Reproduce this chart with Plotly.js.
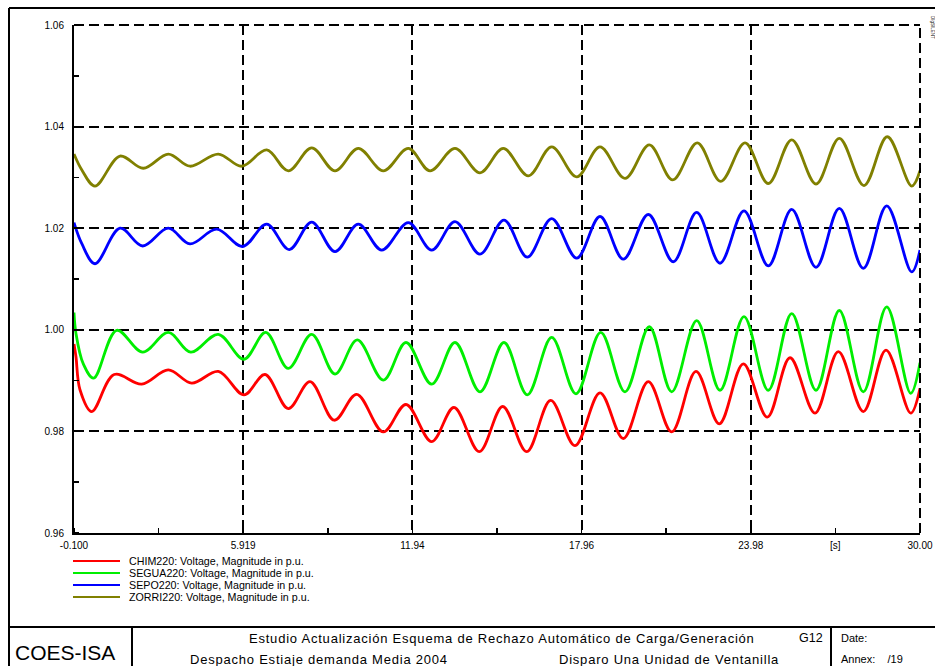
<!DOCTYPE html>
<html>
<head>
<meta charset="utf-8">
<script src="https://cdn.plot.ly/plotly-3.0.1.min.js"></script>
<style>
html,body{margin:0;padding:0;background:#fff;}
#chart{width:935px;height:666px;}
</style>
</head>
<body>
<div id="chart"></div>
<script>
// ---- data (time in s, voltage in p.u.) ----
const chimT = [-0.1, -0.03, 0.113, 0.53, 1.33, 2.309, 3.255, 4.088, 5.034, 5.949, 6.696, 7.525, 8.297, 9.161, 9.958, 10.905, 11.712, 12.627, 13.420, 14.320, 15.153, 16.007, 16.860, 17.725, 18.615, 19.444, 20.333, 21.166, 22.030, 22.859, 23.713, 24.567, 25.375, 26.265, 27.094, 27.983, 28.790, 29.669, 30.0];
const chimV = [0.9972, 0.9947, 0.9882, 0.9839, 0.9912, 0.9893, 0.9921, 0.9895, 0.9918, 0.9872, 0.9912, 0.9845, 0.9898, 0.9822, 0.9873, 0.9799, 0.9853, 0.9780, 0.9847, 0.9760, 0.9849, 0.9760, 0.9861, 0.9772, 0.9876, 0.9786, 0.9898, 0.9799, 0.9918, 0.9815, 0.9933, 0.9828, 0.9945, 0.9836, 0.9957, 0.9839, 0.9960, 0.9836, 0.9885];

const seguaT = [-0.1, -0.03, 0.231, 0.60, 1.419, 2.344, 3.255, 4.052, 5.034, 5.949, 6.721, 7.525, 8.357, 9.186, 9.980, 10.905, 11.712, 12.627, 13.456, 14.345, 15.199, 16.028, 16.896, 17.761, 18.640, 19.504, 20.369, 21.166, 22.055, 22.884, 23.738, 24.603, 25.436, 26.300, 27.129, 27.983, 28.815, 29.669, 30.0];
const seguaV = [1.0034, 0.9993, 0.9933, 0.9905, 0.9999, 0.9956, 0.9995, 0.9956, 0.9991, 0.9942, 0.9995, 0.9924, 0.9991, 0.9913, 0.9980, 0.9901, 0.9975, 0.9893, 0.9975, 0.9878, 0.9975, 0.9872, 0.9985, 0.9874, 0.9995, 0.9878, 1.0006, 0.9878, 1.0018, 0.9881, 1.0026, 0.9881, 1.0032, 0.9881, 1.0038, 0.9878, 1.0045, 0.9875, 0.9935];

const sepoT = [-0.1, 0.174, 0.647, 1.537, 2.344, 3.255, 4.027, 4.977, 5.902, 6.756, 7.560, 8.357, 9.186, 10.015, 10.848, 11.794, 12.627, 13.456, 14.345, 15.199, 16.028, 16.896, 17.786, 18.615, 19.444, 20.333, 21.223, 22.055, 22.884, 23.738, 24.603, 25.436, 26.300, 27.129, 27.983, 28.815, 29.704, 30.0];
const sepoV = [1.0211, 1.0170, 1.0130, 1.0200, 1.0165, 1.0200, 1.0169, 1.0198, 1.0164, 1.0208, 1.0158, 1.0212, 1.0154, 1.0208, 1.0157, 1.0211, 1.0157, 1.0213, 1.0149, 1.0216, 1.0143, 1.0219, 1.0141, 1.0223, 1.0139, 1.0227, 1.0134, 1.0231, 1.0131, 1.0234, 1.0126, 1.0237, 1.0123, 1.0239, 1.0121, 1.0244, 1.0114, 1.0157];

const zorriT = [-0.1, 0.174, 0.647, 1.537, 2.366, 3.255, 4.027, 5.034, 5.867, 6.756, 7.525, 8.357, 9.186, 10.015, 10.905, 11.794, 12.566, 13.456, 14.345, 15.174, 16.064, 16.896, 17.786, 18.615, 19.504, 20.369, 21.201, 22.076, 22.909, 23.774, 24.603, 25.436, 26.300, 27.129, 28.007, 28.836, 29.704, 30.0];
const zorriV = [1.0346, 1.0315, 1.0283, 1.0342, 1.0318, 1.0346, 1.0322, 1.0346, 1.0322, 1.0354, 1.0313, 1.0358, 1.0313, 1.0357, 1.0313, 1.0357, 1.0313, 1.0357, 1.0309, 1.0357, 1.0303, 1.0360, 1.0301, 1.0360, 1.0298, 1.0364, 1.0295, 1.0368, 1.0292, 1.0368, 1.0288, 1.0374, 1.0287, 1.0377, 1.0284, 1.0380, 1.0283, 1.0313];

const seriesNames = ["CHIM220: Voltage, Magnitude in p.u.", "SEGUA220: Voltage, Magnitude in p.u.", "SEPO220: Voltage, Magnitude in p.u.", "ZORRI220: Voltage, Magnitude in p.u."];
const seriesColors = ["#ff0000", "#00ee00", "#0000ff", "#808000"];

const xTickVals = [-0.1, 5.919, 11.94, 17.96, 23.98, 30.0];
const xTickText = ["-0.100", "5.919", "11.94", "17.96", "23.98", "30.00"];
const yTickVals = [0.96, 0.98, 1.00, 1.02, 1.04, 1.06];
const yTickText = ["0.96", "0.98", "1.00", "1.02", "1.04", "1.06"];

// ---- layout geometry helpers (pixel -> paper) ----
const W = 935, H = 666;
const L = 74, R = 920, T = 25, B = 533;
const px = x => (x - L) / (R - L);
const py = y => (B - y) / (B - T);
const FONT = "Liberation Sans, Arial, sans-serif";

const xs = [chimT, seguaT, sepoT, zorriT];
const ys = [chimV, seguaV, sepoV, zorriV];
const traces = xs.map((x, i) => ({
  type: "scatter", mode: "lines", x: x, y: ys[i], name: seriesNames[i],
  line: {color: seriesColors[i], width: 2.8, shape: "spline", smoothing: 1},
  showlegend: false, hoverinfo: "skip"
}));

const blk = {color: "#000", width: 2};
const dashLine = {color: "#000", width: 2, dash: "10px,5px"};
const shapes = [
  // outer frame
  {type: "line", xref: "paper", yref: "paper", x0: px(9), x1: px(9), y0: py(8), y1: py(670), line: blk},
  {type: "line", xref: "paper", yref: "paper", x0: px(9), x1: px(940), y0: py(8), y1: py(8), line: blk},
  // title block
  {type: "line", xref: "paper", yref: "paper", x0: px(9), x1: px(940), y0: py(627), y1: py(627), line: blk},
  {type: "line", xref: "paper", yref: "paper", x0: px(132), x1: px(132), y0: py(627), y1: py(670), line: blk},
  {type: "line", xref: "paper", yref: "paper", x0: px(831), x1: px(831), y0: py(627), y1: py(670), line: blk},
  // dashed top & right plot edges
  {type: "line", xref: "paper", yref: "paper", x0: 0, x1: 1, y0: 1, y1: 1, line: dashLine},
  {type: "line", xref: "paper", yref: "paper", x0: 1, x1: 1, y0: 0, y1: 1, line: dashLine}
];
const legY = [561, 573, 585, 597];
const annotations = [];
seriesNames.forEach((n, i) => {
  shapes.push({type: "line", xref: "paper", yref: "paper", x0: px(73), x1: px(120), y0: py(legY[i]), y1: py(legY[i]), line: {color: seriesColors[i], width: 2}});
  annotations.push({xref: "paper", yref: "paper", x: px(127), y: py(legY[i]), xanchor: "left", yanchor: "middle", text: n, showarrow: false, font: {family: FONT, size: 10.7, color: "#000"}});
});
const tb = (x, y, text, size, anchor) => annotations.push({xref: "paper", yref: "paper", x: px(x), y: py(y), xanchor: anchor || "left", yanchor: "middle", text: text, showarrow: false, font: {family: FONT, size: size, color: "#000"}});
const sp = t => "<span style='letter-spacing:0.78px'>" + t + "</span>";
tb(13, 652, "COES-ISA", 21, "left");
tb(247, 638, sp("Estudio Actualización Esquema de Rechazo Automático de Carga/Generación"), 13, "left");
tb(797, 638, "G12", 12.5, "left");
tb(188, 659, sp("Despacho Estiaje demanda Media 2004"), 13, "left");
tb(557, 659, sp("Disparo Una Unidad de Ventanilla"), 13, "left");
tb(839, 638, "Date:", 11, "left");
tb(839, 659, "Annex:&nbsp;&nbsp;&nbsp;&nbsp;/19", 11, "left");
// time unit label at the minor tick position
annotations.push({xref: "x", yref: "paper", x: 26.99, y: py(545), xanchor: "center", yanchor: "middle", text: "[s]", showarrow: false, font: {family: FONT, size: 10, color: "#000"}});
annotations.push({xref: "paper", yref: "paper", x: px(932), y: py(27), xanchor: "center", yanchor: "middle", text: "DIgSILENT", textangle: 90, showarrow: false, font: {family: FONT, size: 4.5, color: "#000"}});

const gridCommon = {showgrid: true, gridcolor: "#000", gridwidth: 2, griddash: "10px,5px", zeroline: false,
  showline: true, linecolor: "#000", linewidth: 2, ticks: "", tickfont: {family: FONT, size: 10, color: "#000"}};

const layout = {
  width: W, height: H,
  margin: {l: L, r: W - R, t: T, b: H - B, pad: 0},
  paper_bgcolor: "#fff", plot_bgcolor: "#fff",
  showlegend: false,
  xaxis: Object.assign({}, gridCommon, {
    range: [-0.1, 30.0], tickmode: "array", tickvals: xTickVals, ticktext: xTickText,
    ticklabelstandoff: 2,
    minor: {tick0: -0.1, dtick: 3.01, ticks: "inside", ticklen: 5, tickwidth: 1.5, tickcolor: "#000", showgrid: false}
  }),
  yaxis: Object.assign({}, gridCommon, {
    range: [0.96, 1.06], tickmode: "array", tickvals: yTickVals, ticktext: yTickText,
    ticklabelstandoff: 6,
    minor: {tick0: 0.96, dtick: 0.01, ticks: "inside", ticklen: 5, tickwidth: 1.5, tickcolor: "#000", showgrid: false}
  }),
  shapes: shapes,
  annotations: annotations
};

Plotly.newPlot("chart", traces, layout, {displayModeBar: false, staticPlot: true});
</script>
</body>
</html>
